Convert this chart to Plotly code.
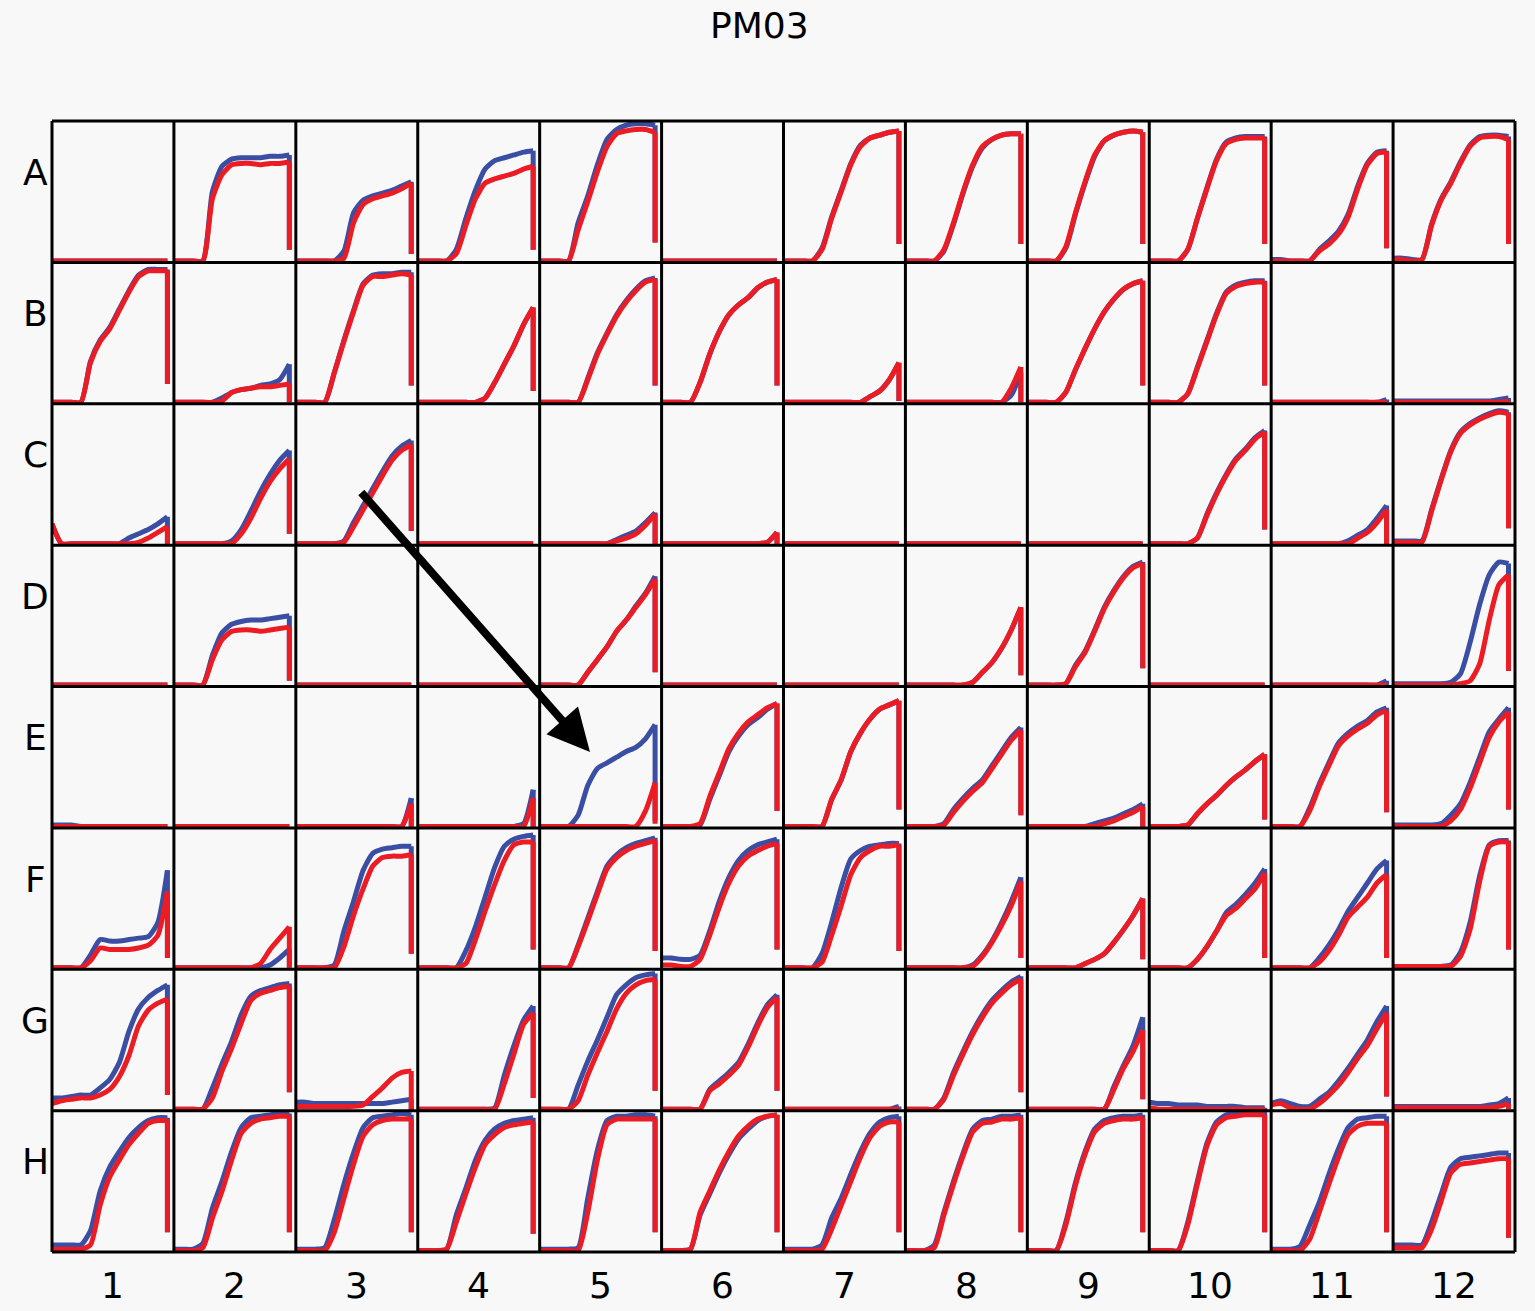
import plotly.graph_objects as go
from plotly.subplots import make_subplots

PLATE = "PM03"
ROWS = ["A", "B", "C", "D", "E", "F", "G", "H"]
COLS = ["1", "2", "3", "4", "5", "6", "7", "8", "9", "10", "11", "12"]
# sampling times (h); last point repeated = end-of-run drop
TIME_H = [0, 4, 8, 12, 16, 20, 24, 28, 32, 36, 40, 44, 48, 48]
FLAT = [1, 1, 1, 1, 1, 1, 1, 1, 1, 1, 1, 1, 1, 1]

BLUE_A = [
    FLAT,
    [1, 1, 1, 1, 50, 68, 73, 74, 74, 74, 75, 75, 76, 9],
    [1, 1, 1, 1, 1, 8, 35, 44, 47, 49, 51, 54, 57, 6],
    [1, 1, 1, 1, 9, 31, 51, 66, 72, 74, 76, 78, 79, 9],
    [1, 1, 1, 1, 28, 47, 69, 87, 94, 97, 98, 98, 97, 14],
    FLAT,
    [1, 1, 1, 1, 10, 32, 51, 70, 83, 88, 90, 92, 93, 13],
    [1, 1, 1, 1, 8, 27, 49, 68, 81, 87, 90, 91, 91, 13],
    [1, 1, 1, 1, 10, 34, 56, 75, 86, 90, 92, 93, 92, 13],
    [1, 1, 1, 1, 9, 31, 53, 73, 85, 88, 89, 89, 89, 13],
    [2, 2, 1, 1, 1, 9, 15, 22, 34, 54, 70, 78, 79, 10],
    [3, 3, 2, 2, 27, 45, 57, 71, 83, 89, 90, 90, 89, 13],
]
RED_A = [
    FLAT,
    [1, 1, 1, 1, 45, 62, 69, 70, 70, 69, 70, 70, 71, 9],
    [1, 1, 1, 1, 1, 3, 28, 41, 45, 47, 49, 52, 56, 6],
    [1, 1, 1, 1, 6, 26, 45, 56, 59, 61, 63, 66, 68, 9],
    [1, 1, 1, 1, 23, 43, 64, 82, 91, 93, 94, 94, 92, 14],
    FLAT,
    [1, 1, 1, 1, 9, 31, 50, 69, 82, 88, 90, 92, 93, 13],
    [1, 1, 1, 1, 9, 28, 50, 69, 82, 87, 90, 91, 91, 13],
    [1, 1, 1, 1, 11, 35, 57, 76, 86, 90, 92, 93, 92, 13],
    [1, 1, 1, 1, 9, 31, 52, 72, 84, 87, 88, 88, 88, 13],
    [1, 1, 1, 1, 1, 8, 13, 20, 32, 52, 69, 77, 78, 10],
    [2, 2, 1, 2, 26, 44, 56, 70, 82, 88, 89, 89, 87, 13],
]
BLUE_B = [
    [1, 1, 1, 1, 30, 45, 54, 67, 80, 91, 95, 95, 95, 14],
    [1, 1, 1, 1, 1, 4, 8, 10, 11, 13, 14, 17, 28, 1],
    [1, 1, 1, 1, 22, 45, 66, 85, 91, 92, 92, 93, 93, 13],
    [1, 1, 1, 1, 1, 1, 1, 4, 15, 28, 41, 56, 68, 9],
    [1, 1, 1, 1, 1, 18, 36, 50, 63, 73, 81, 87, 89, 13],
    [1, 1, 1, 1, 15, 35, 51, 63, 70, 75, 82, 86, 88, 13],
    [1, 1, 1, 1, 1, 1, 1, 1, 1, 5, 9, 17, 29, 2],
    [1, 1, 1, 1, 1, 1, 1, 1, 1, 1, 1, 6, 22, 1],
    [1, 1, 1, 1, 8, 24, 39, 53, 65, 74, 81, 85, 87, 13],
    [1, 1, 1, 1, 7, 26, 45, 64, 79, 84, 86, 87, 87, 13],
    [1, 1, 1, 1, 1, 1, 1, 1, 1, 1, 1, 1, 3, 1],
    [2, 2, 2, 2, 2, 2, 2, 2, 2, 2, 2, 3, 4, 1],
]
RED_B = [
    [1, 1, 1, 1, 29, 44, 53, 66, 79, 90, 94, 94, 94, 14],
    [1, 1, 1, 1, 1, 2, 8, 10, 11, 12, 12, 13, 14, 1],
    [1, 1, 1, 1, 22, 44, 65, 84, 90, 90, 91, 92, 91, 13],
    [1, 1, 1, 1, 1, 1, 1, 4, 15, 28, 41, 56, 68, 9],
    [1, 1, 1, 1, 1, 17, 35, 49, 62, 72, 80, 86, 88, 13],
    [1, 1, 1, 1, 15, 35, 51, 63, 70, 75, 82, 86, 88, 13],
    [1, 1, 1, 1, 1, 1, 1, 1, 1, 5, 9, 17, 29, 2],
    [1, 1, 1, 1, 1, 1, 1, 1, 1, 1, 1, 11, 26, 1],
    [1, 1, 1, 1, 8, 24, 39, 53, 65, 74, 81, 85, 87, 13],
    [1, 1, 1, 1, 7, 25, 44, 63, 78, 83, 85, 86, 86, 13],
    FLAT,
    [1, 1, 1, 1, 1, 1, 1, 1, 1, 1, 1, 1, 2, 1],
]
BLUE_C = [
    [15, 1, 1, 1, 1, 1, 1, 1, 5, 8, 11, 15, 20, 0],
    [1, 1, 1, 1, 1, 1, 3, 11, 24, 38, 50, 60, 67, 8],
    [1, 1, 1, 1, 1, 3, 16, 28, 40, 52, 63, 70, 74, 10],
    FLAT,
    [1, 1, 1, 1, 1, 1, 1, 1, 4, 7, 10, 16, 23, 0],
    [1, 1, 1, 1, 1, 1, 1, 1, 1, 1, 1, 2, 9, 0],
    FLAT,
    FLAT,
    FLAT,
    [1, 1, 1, 1, 1, 5, 22, 37, 50, 61, 68, 76, 81, 11],
    [1, 1, 1, 1, 1, 1, 1, 1, 3, 7, 11, 19, 28, 0],
    [3, 3, 3, 3, 25, 47, 67, 80, 86, 90, 93, 95, 94, 12],
]
RED_C = [
    [15, 1, 1, 1, 1, 1, 1, 1, 1, 2, 5, 9, 13, 0],
    [1, 1, 1, 1, 1, 1, 1, 8, 19, 33, 45, 54, 61, 8],
    [1, 1, 1, 1, 1, 2, 13, 25, 37, 49, 60, 67, 71, 10],
    FLAT,
    [1, 1, 1, 1, 1, 1, 1, 1, 3, 5, 8, 14, 22, 0],
    [1, 1, 1, 1, 1, 1, 1, 1, 1, 1, 1, 2, 9, 0],
    FLAT,
    FLAT,
    FLAT,
    [1, 1, 1, 1, 1, 5, 21, 36, 49, 60, 67, 75, 80, 11],
    [1, 1, 1, 1, 1, 1, 1, 1, 1, 5, 9, 16, 25, 0],
    [2, 2, 2, 2, 24, 46, 66, 79, 85, 89, 92, 94, 93, 12],
]
BLUE_D = [
    FLAT,
    [1, 1, 1, 1, 22, 38, 44, 46, 47, 47, 48, 49, 50, 4],
    FLAT,
    FLAT,
    [1, 1, 1, 1, 1, 10, 19, 28, 39, 47, 57, 66, 78, 10],
    FLAT,
    FLAT,
    [1, 1, 1, 1, 1, 1, 1, 3, 10, 17, 27, 40, 56, 8],
    [1, 1, 1, 1, 2, 15, 25, 40, 56, 68, 78, 85, 88, 13],
    FLAT,
    [1, 1, 1, 1, 1, 1, 1, 1, 1, 1, 1, 1, 4, 1],
    [2, 2, 2, 2, 2, 2, 3, 9, 31, 58, 79, 88, 87, 11],
]
RED_D = [
    FLAT,
    [1, 1, 1, 1, 19, 33, 39, 40, 40, 39, 40, 41, 42, 4],
    FLAT,
    FLAT,
    [1, 1, 1, 1, 1, 10, 19, 28, 39, 47, 56, 65, 76, 10],
    FLAT,
    FLAT,
    [1, 1, 1, 1, 1, 1, 1, 3, 10, 17, 27, 40, 56, 8],
    [1, 1, 1, 1, 2, 14, 24, 39, 55, 67, 77, 84, 87, 13],
    FLAT,
    FLAT,
    [1, 1, 1, 1, 1, 1, 1, 2, 4, 16, 47, 72, 79, 11],
]
BLUE_E = [
    [2, 2, 2, 1, 1, 1, 1, 1, 1, 1, 1, 1, 1, 1],
    FLAT,
    [1, 1, 1, 1, 1, 1, 1, 1, 1, 1, 1, 1, 21, 0],
    [1, 1, 1, 1, 1, 1, 1, 1, 1, 1, 1, 3, 27, 0],
    [1, 1, 1, 1, 9, 30, 42, 46, 50, 54, 57, 63, 73, 5],
    [1, 1, 1, 1, 2, 20, 37, 54, 65, 73, 78, 84, 88, 12],
    [1, 1, 1, 1, 1, 20, 34, 54, 67, 77, 84, 87, 90, 13],
    [1, 1, 1, 1, 3, 13, 21, 28, 34, 44, 54, 64, 71, 9],
    [1, 1, 1, 1, 1, 1, 1, 3, 5, 7, 10, 13, 17, 0],
    [1, 1, 1, 1, 2, 10, 17, 23, 30, 36, 41, 47, 52, 6],
    [1, 1, 1, 1, 14, 31, 46, 60, 67, 72, 76, 82, 85, 11],
    [2, 2, 2, 2, 2, 3, 9, 17, 32, 50, 68, 77, 85, 13],
]
RED_E = [
    FLAT,
    FLAT,
    [1, 1, 1, 1, 1, 1, 1, 1, 1, 1, 1, 1, 17, 0],
    [1, 1, 1, 1, 1, 1, 1, 1, 1, 1, 1, 1, 21, 0],
    [1, 1, 1, 1, 1, 1, 1, 1, 1, 1, 1, 12, 32, 3],
    [1, 1, 1, 1, 3, 22, 39, 56, 67, 75, 80, 85, 88, 12],
    [1, 1, 1, 1, 1, 20, 34, 54, 67, 77, 84, 87, 90, 13],
    [1, 1, 1, 1, 2, 11, 19, 26, 32, 42, 52, 62, 69, 9],
    [1, 1, 1, 1, 1, 1, 1, 1, 3, 5, 8, 11, 15, 0],
    [1, 1, 1, 1, 2, 10, 17, 23, 30, 36, 41, 47, 52, 6],
    [1, 1, 1, 1, 12, 29, 44, 58, 65, 70, 74, 80, 83, 11],
    [1, 1, 1, 1, 1, 1, 5, 13, 28, 46, 64, 75, 82, 13],
]
BLUE_F = [
    [1, 1, 1, 1, 10, 21, 20, 20, 21, 22, 23, 33, 70, 8],
    [1, 1, 1, 1, 1, 1, 1, 1, 1, 1, 3, 8, 14, 1],
    [1, 1, 1, 1, 3, 27, 48, 70, 82, 85, 86, 87, 87, 11],
    [1, 1, 1, 1, 1, 13, 30, 51, 72, 87, 92, 94, 95, 14],
    [1, 1, 1, 1, 17, 36, 55, 73, 81, 86, 89, 91, 93, 13],
    [8, 8, 7, 7, 10, 27, 48, 65, 77, 84, 88, 90, 92, 14],
    [1, 1, 1, 1, 11, 33, 58, 78, 84, 87, 88, 89, 89, 13],
    [1, 1, 1, 1, 1, 1, 1, 3, 10, 20, 33, 48, 65, 8],
    [1, 1, 1, 1, 1, 1, 4, 7, 11, 19, 28, 38, 50, 7],
    [1, 1, 1, 1, 1, 7, 16, 27, 40, 46, 53, 61, 71, 8],
    [1, 1, 1, 1, 1, 8, 17, 28, 41, 51, 61, 71, 77, 8],
    [2, 2, 2, 2, 2, 2, 3, 12, 33, 66, 88, 91, 91, 14],
]
RED_F = [
    [1, 1, 1, 1, 6, 15, 14, 14, 14, 15, 17, 24, 55, 8],
    [1, 1, 1, 1, 1, 1, 1, 1, 1, 4, 14, 22, 30, 1],
    [1, 1, 1, 1, 1, 16, 38, 57, 73, 79, 80, 80, 81, 11],
    [1, 1, 1, 1, 1, 4, 21, 41, 60, 77, 88, 90, 90, 14],
    [1, 1, 1, 1, 16, 34, 53, 71, 79, 84, 87, 89, 91, 13],
    [3, 3, 2, 2, 7, 24, 44, 61, 73, 80, 84, 87, 89, 14],
    [1, 1, 1, 1, 5, 24, 45, 67, 79, 84, 87, 87, 88, 13],
    [1, 1, 1, 1, 1, 1, 1, 2, 9, 19, 31, 45, 62, 8],
    [1, 1, 1, 1, 1, 1, 4, 7, 11, 19, 28, 38, 50, 7],
    [1, 1, 1, 1, 1, 7, 16, 27, 38, 43, 50, 57, 68, 8],
    [1, 1, 1, 1, 1, 5, 13, 24, 37, 44, 51, 61, 67, 8],
    [2, 2, 2, 2, 2, 2, 2, 9, 28, 62, 87, 90, 90, 14],
]
BLUE_G = [
    [9, 9, 10, 11, 11, 16, 22, 34, 56, 72, 80, 85, 89, 11],
    [1, 1, 1, 1, 16, 33, 49, 68, 81, 85, 87, 89, 90, 13],
    [6, 6, 5, 5, 5, 5, 5, 5, 5, 5, 6, 7, 8, 0],
    [1, 1, 1, 1, 1, 1, 1, 1, 2, 25, 46, 64, 74, 9],
    [1, 1, 1, 1, 18, 35, 50, 66, 82, 89, 94, 96, 97, 14],
    [1, 1, 1, 1, 1, 15, 21, 27, 34, 47, 62, 75, 82, 14],
    [1, 1, 1, 1, 1, 1, 1, 1, 1, 1, 1, 1, 3, 1],
    [1, 1, 1, 1, 9, 27, 42, 56, 68, 78, 85, 91, 95, 13],
    [1, 1, 1, 1, 1, 1, 1, 1, 1, 17, 32, 46, 66, 8],
    [6, 5, 5, 4, 4, 4, 3, 3, 3, 3, 2, 2, 2, 0],
    [5, 7, 5, 3, 3, 8, 13, 21, 30, 40, 50, 63, 74, 10],
    [3, 3, 3, 3, 3, 3, 3, 3, 3, 3, 4, 5, 9, 1],
]
RED_G = [
    [5, 7, 8, 9, 9, 11, 15, 24, 39, 60, 71, 76, 79, 11],
    [1, 1, 1, 1, 9, 28, 44, 62, 78, 83, 85, 87, 88, 13],
    [3, 3, 3, 3, 3, 3, 3, 4, 10, 16, 23, 27, 28, 0],
    [1, 1, 1, 1, 1, 1, 1, 1, 1, 19, 40, 61, 69, 9],
    [1, 1, 1, 1, 7, 25, 41, 56, 72, 83, 89, 92, 93, 14],
    [1, 1, 1, 1, 1, 14, 19, 25, 32, 45, 60, 73, 80, 14],
    FLAT,
    [1, 1, 1, 1, 8, 25, 40, 54, 66, 76, 83, 89, 93, 13],
    [1, 1, 1, 1, 1, 1, 1, 1, 1, 15, 30, 42, 57, 8],
    [2, 1, 1, 1, 1, 1, 1, 1, 1, 1, 1, 1, 1, 0],
    [4, 5, 2, 1, 1, 5, 11, 18, 27, 37, 46, 58, 69, 10],
    [2, 2, 2, 2, 2, 2, 2, 2, 2, 2, 2, 3, 5, 1],
]
BLUE_H = [
    [5, 5, 5, 5, 15, 43, 60, 71, 81, 88, 93, 95, 95, 14],
    [2, 2, 2, 6, 31, 50, 71, 88, 95, 96, 97, 98, 98, 14],
    [2, 2, 2, 3, 23, 48, 70, 88, 95, 96, 97, 98, 97, 14],
    [1, 1, 1, 2, 26, 45, 65, 79, 87, 91, 93, 94, 95, 13],
    [2, 2, 2, 2, 3, 38, 72, 93, 96, 96, 97, 97, 96, 14],
    [1, 1, 1, 2, 26, 41, 56, 69, 80, 87, 93, 96, 97, 14],
    [2, 2, 2, 2, 5, 24, 38, 55, 71, 84, 92, 95, 96, 14],
    [1, 1, 1, 5, 28, 50, 70, 87, 93, 94, 96, 96, 97, 14],
    [1, 1, 1, 1, 21, 49, 71, 87, 93, 95, 96, 96, 97, 14],
    [1, 1, 1, 1, 21, 50, 77, 92, 97, 98, 99, 99, 99, 14],
    [2, 2, 2, 4, 19, 35, 55, 73, 88, 94, 95, 96, 96, 14],
    [5, 5, 5, 5, 21, 41, 60, 66, 67, 68, 69, 70, 70, 10],
]
RED_H = [
    [2, 2, 2, 2, 5, 33, 53, 65, 76, 84, 91, 93, 93, 14],
    [1, 1, 1, 3, 24, 43, 65, 84, 91, 94, 95, 96, 96, 14],
    [1, 1, 1, 1, 14, 38, 62, 82, 90, 93, 94, 94, 94, 14],
    [1, 1, 1, 2, 21, 41, 60, 76, 83, 88, 90, 91, 92, 13],
    [1, 1, 1, 1, 1, 28, 65, 90, 94, 94, 94, 94, 94, 14],
    [1, 1, 1, 2, 28, 43, 58, 71, 82, 89, 94, 96, 97, 14],
    [1, 1, 1, 1, 2, 16, 33, 50, 67, 81, 89, 92, 92, 14],
    [1, 1, 1, 3, 26, 48, 68, 85, 91, 92, 94, 94, 95, 14],
    [1, 1, 1, 1, 19, 47, 69, 85, 91, 93, 94, 94, 95, 14],
    [1, 1, 1, 1, 19, 48, 75, 90, 95, 96, 97, 97, 97, 14],
    [1, 1, 1, 1, 9, 28, 48, 67, 83, 89, 91, 91, 91, 14],
    [3, 3, 3, 3, 16, 36, 56, 62, 63, 64, 65, 66, 66, 10],
]

BLUE = [BLUE_A, BLUE_B, BLUE_C, BLUE_D, BLUE_E, BLUE_F, BLUE_G, BLUE_H]
RED = [RED_A, RED_B, RED_C, RED_D, RED_E, RED_F, RED_G, RED_H]

BLUE_COLOR = "#3a4ea3"
RED_COLOR = "#ec1c24"
BG = "#f7f8f7"

W, H = 1535, 1311
ML, MR, MT, MB = 52, 20, 121, 59
PW, PH = W - ML - MR, H - MT - MB

fig = make_subplots(rows=8, cols=12, horizontal_spacing=0, vertical_spacing=0)


def add_curve(ys, color, r, c):
    # smooth growth curve over the sampled times
    fig.add_trace(go.Scatter(x=TIME_H[:-1], y=ys[:-1], mode="lines",
                             line=dict(color=color, width=5, shape="spline", smoothing=0.6),
                             hoverinfo="skip", showlegend=False), row=r, col=c)
    # end-of-run drop
    fig.add_trace(go.Scatter(x=TIME_H[-2:], y=ys[-2:], mode="lines",
                             line=dict(color=color, width=5),
                             hoverinfo="skip", showlegend=False), row=r, col=c)


for r in range(8):
    for c in range(12):
        add_curve(BLUE[r][c], BLUE_COLOR, r + 1, c + 1)
        add_curve(RED[r][c], RED_COLOR, r + 1, c + 1)

fig.update_xaxes(range=[0, 50.7], showticklabels=False, showgrid=False, zeroline=False,
                 showline=False, ticks="")
fig.update_yaxes(range=[0, 100], showticklabels=False, showgrid=False, zeroline=False,
                 showline=False, ticks="")


def px_x(x):
    return (x - ML) / PW


def px_y(y):
    return (MT + PH - y) / PH


shapes = []
for k in range(13):
    shapes.append(dict(type="line", xref="paper", yref="paper", x0=k / 12, x1=k / 12,
                       y0=0, y1=1, line=dict(color="black", width=3)))
for k in range(9):
    shapes.append(dict(type="line", xref="paper", yref="paper", x0=0, x1=1,
                       y0=k / 8, y1=k / 8, line=dict(color="black", width=3)))

annotations = []
annotations.append(dict(text=PLATE, x=px_x(759), y=px_y(25), xref="paper", yref="paper",
                        showarrow=False, font=dict(size=36, color="black"),
                        xanchor="center", yanchor="middle"))
for i, lab in enumerate(ROWS):
    annotations.append(dict(text=lab, x=px_x(35), y=px_y(172 + i * 141.4), xref="paper",
                            yref="paper", showarrow=False, font=dict(size=36, color="black"),
                            xanchor="center", yanchor="middle"))
for j, lab in enumerate(COLS):
    annotations.append(dict(text=lab, x=px_x(ML + (j + 0.5) * PW / 12), y=px_y(1285),
                            xref="paper", yref="paper", showarrow=False,
                            font=dict(size=36, color="black"),
                            xanchor="center", yanchor="middle"))
# highlight arrow pointing to well E5
annotations.append(dict(text="", x=px_x(590), y=px_y(752), xref="paper", yref="paper",
                        showarrow=True, ax=-230, ay=-261, arrowhead=2, arrowsize=1.05,
                        arrowwidth=8, arrowcolor="black"))

fig.update_layout(width=W, height=H, margin=dict(l=ML, r=MR, t=MT, b=MB),
                  paper_bgcolor=BG, plot_bgcolor=BG,
                  font=dict(family="DejaVu Sans", color="black"),
                  annotations=annotations, shapes=shapes, showlegend=False)

fig.write_html("out.html", post_script="document.body.style.margin='0';",
               config={"displayModeBar": False})
